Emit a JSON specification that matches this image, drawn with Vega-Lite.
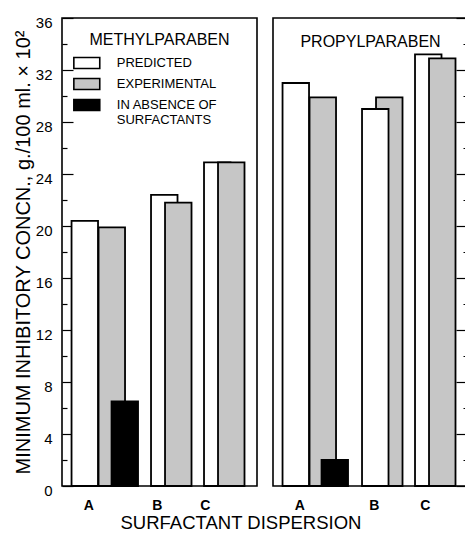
{
  "$schema": "https://vega.github.io/schema/vega-lite/v6.json",
  "padding": {"left": 12, "top": 14, "right": 0, "bottom": 0},
  "data": {
    "values": [
      {"compound": "Methylparaben", "dispersion": "A", "series": "PREDICTED", "value": 20.4},
      {"compound": "Methylparaben", "dispersion": "A", "series": "EXPERIMENTAL", "value": 19.9},
      {"compound": "Methylparaben", "dispersion": "A", "series": "IN ABSENCE OF SURFACTANTS", "value": 6.5},
      {"compound": "Methylparaben", "dispersion": "B", "series": "PREDICTED", "value": 22.4},
      {"compound": "Methylparaben", "dispersion": "B", "series": "EXPERIMENTAL", "value": 21.8},
      {"compound": "Methylparaben", "dispersion": "C", "series": "PREDICTED", "value": 24.9},
      {"compound": "Methylparaben", "dispersion": "C", "series": "EXPERIMENTAL", "value": 24.9},
      {"compound": "Propylparaben", "dispersion": "A", "series": "PREDICTED", "value": 31.0},
      {"compound": "Propylparaben", "dispersion": "A", "series": "EXPERIMENTAL", "value": 29.9},
      {"compound": "Propylparaben", "dispersion": "A", "series": "IN ABSENCE OF SURFACTANTS", "value": 2.0},
      {"compound": "Propylparaben", "dispersion": "B", "series": "PREDICTED", "value": 29.0},
      {"compound": "Propylparaben", "dispersion": "B", "series": "EXPERIMENTAL", "value": 29.9},
      {"compound": "Propylparaben", "dispersion": "C", "series": "PREDICTED", "value": 33.2},
      {"compound": "Propylparaben", "dispersion": "C", "series": "EXPERIMENTAL", "value": 32.9}
    ]
  },
  "title": {"text": "SURFACTANT DISPERSION", "orient": "bottom", "anchor": "middle", "fontSize": 18.5, "font": "Liberation Sans", "fontWeight": "normal", "color": "black", "offset": 1},
  "spacing": 14,
  "resolve": {"legend": {"color": "independent"}},
  "hconcat": [
    {
      "width": 195,
      "height": 468,
      "title": {"text": "METHYLPARABEN", "orient": "top", "offset": -33, "fontSize": 16, "font": "Liberation Sans", "fontWeight": "normal", "color": "black", "anchor": "middle", "frame": "group"},
      "transform": [{"filter": "datum.compound === 'Methylparaben'"}],
      "encoding": {
        "x": {"field": "dispersion", "type": "nominal",
          "scale": {"domain": ["A", "a1", "a2", "B", "b1", "C", "c1"], "paddingInner": 0, "paddingOuter": 0.18, "align": 1},
          "axis": {"values": ["A", "B", "C"], "ticks": false, "domain": false, "labelAngle": 0, "labelFontSize": 14, "labelFont": "Liberation Sans", "labelFontWeight": "bold", "labelColor": "black", "labelPadding": 12, "title": null,
            "labelOffset": {"condition": [{"test": "datum.value === 'A'", "value": 4}, {"test": "datum.value === 'B'", "value": -7}], "value": -12}}},
        "y": {"field": "value", "type": "quantitative",
          "scale": {"domain": [0, 36], "nice": false},
          "axis": {"orient": "left", "values": [0, 2, 4, 6, 8, 10, 12, 14, 16, 18, 20, 22, 24, 26, 28, 30, 32, 34, 36],
            "labelExpr": "datum.value % 4 === 0 ? datum.label : ''",
            "tickSize": {"condition": {"test": "datum.value % 4 === 0", "value": -11}, "value": -5},
            "tickColor": "black", "tickWidth": 1.2, "domain": false, "grid": false,
            "labelFontSize": 15, "labelFont": "Liberation Sans", "labelColor": "black", "labelPadding": 21, "labelOffset": 4,
            "labelOverlap": false, "labelFlush": false,
            "title": "MINIMUM INHIBITORY CONCN., g./100 ml. × 10²", "titleFontSize": 20, "titleFont": "Liberation Sans", "titleFontWeight": "normal", "titleColor": "black", "titlePadding": 2}},
        "color": {"field": "series", "type": "nominal",
          "scale": {"domain": ["PREDICTED", "EXPERIMENTAL", "IN ABSENCE OF SURFACTANTS"], "range": ["white", "#c6c6c6", "black"]},
          "legend": {"orient": "none", "legendX": 15.8, "legendY": 36, "title": null, "padding": 0,
            "symbolType": "M-1.62,-0.68L1.62,-0.68L1.62,0.68L-1.62,0.68Z", "symbolSize": 256, "symbolStrokeColor": "black", "symbolStrokeWidth": 1.6,
            "labelFontSize": 13, "labelFont": "Liberation Sans", "labelColor": "black", "labelOffset": 21, "rowPadding": 3,
            "labelExpr": "datum.label === 'IN ABSENCE OF SURFACTANTS' ? ['IN ABSENCE OF', 'SURFACTANTS'] : datum.label"}}
      },
      "layer": [
        {"transform": [{"filter": "datum.series === 'PREDICTED'"}], "mark": {"type": "bar", "stroke": "black", "strokeWidth": 1.8}},
        {"transform": [{"filter": "datum.series === 'EXPERIMENTAL' && datum.dispersion === 'A'"}], "mark": {"type": "bar", "stroke": "black", "strokeWidth": 1.8, "xOffset": 27}},
        {"transform": [{"filter": "datum.series === 'EXPERIMENTAL' && datum.dispersion !== 'A'"}], "mark": {"type": "bar", "stroke": "black", "strokeWidth": 1.8, "xOffset": 14}},
        {"transform": [{"filter": "datum.series === 'IN ABSENCE OF SURFACTANTS'"}], "mark": {"type": "bar", "stroke": "black", "strokeWidth": 1.8, "xOffset": 40}}
      ]
    },
    {
      "width": 195,
      "height": 468,
      "title": {"text": "PROPYLPARABEN", "orient": "top", "offset": -33, "fontSize": 16, "font": "Liberation Sans", "fontWeight": "normal", "color": "black", "anchor": "middle", "frame": "group"},
      "transform": [{"filter": "datum.compound === 'Propylparaben'"}],
      "encoding": {
        "x": {"field": "dispersion", "type": "nominal",
          "scale": {"domain": ["A", "a1", "a2", "B", "b1", "C", "c1"], "paddingInner": 0, "paddingOuter": 0.18, "align": 1},
          "axis": {"values": ["A", "B", "C"], "ticks": false, "domain": false, "labelAngle": 0, "labelFontSize": 14, "labelFont": "Liberation Sans", "labelFontWeight": "bold", "labelColor": "black", "labelPadding": 12, "title": null,
            "labelOffset": {"condition": [{"test": "datum.value === 'A'", "value": 4}, {"test": "datum.value === 'B'", "value": -1}], "value": -3}}},
        "y": {"field": "value", "type": "quantitative",
          "scale": {"domain": [0, 36], "nice": false},
          "axis": {"orient": "right", "values": [0, 2, 4, 6, 8, 10, 12, 14, 16, 18, 20, 22, 24, 26, 28, 30, 32, 34, 36],
            "labels": false,
            "tickSize": {"condition": {"test": "datum.value % 4 === 0", "value": -12}, "value": -5},
            "tickColor": "black", "tickWidth": 1.2, "domain": false, "grid": false, "title": null}},
        "color": {"field": "series", "type": "nominal",
          "scale": {"domain": ["PREDICTED", "EXPERIMENTAL", "IN ABSENCE OF SURFACTANTS"], "range": ["white", "#c6c6c6", "black"]},
          "legend": null}
      },
      "layer": [
        {"transform": [{"filter": "datum.series === 'PREDICTED' && datum.dispersion !== 'B'"}], "mark": {"type": "bar", "stroke": "black", "strokeWidth": 1.8}},
        {"transform": [{"filter": "datum.series === 'EXPERIMENTAL' && datum.dispersion === 'A'"}], "mark": {"type": "bar", "stroke": "black", "strokeWidth": 1.8, "xOffset": 27}},
        {"transform": [{"filter": "datum.series === 'EXPERIMENTAL' && datum.dispersion !== 'A'"}], "mark": {"type": "bar", "stroke": "black", "strokeWidth": 1.8, "xOffset": 14}},
        {"transform": [{"filter": "datum.series === 'IN ABSENCE OF SURFACTANTS'"}], "mark": {"type": "bar", "stroke": "black", "strokeWidth": 1.8, "xOffset": 39}},
        {"transform": [{"filter": "datum.series === 'PREDICTED' && datum.dispersion === 'B'"}], "mark": {"type": "bar", "stroke": "black", "strokeWidth": 1.8}}
      ]
    }
  ],
  "config": {
    "view": {"stroke": "black", "strokeWidth": 1.6},
    "font": "Liberation Sans"
  }
}
